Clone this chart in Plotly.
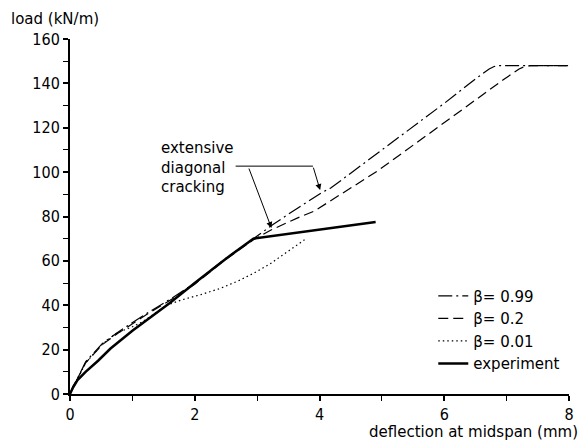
import plotly.graph_objects as go

# ---- data ----
exp_x = [0, 0.05, 0.12, 0.25, 0.45, 0.65, 1.0, 1.6, 2.0, 2.5, 2.94, 4.9]
exp_y = [0, 3, 6.3, 10, 15, 20.5, 28.5, 41, 50, 61, 70, 77.5]

b099_x = [0, 0.05, 0.12, 0.25, 0.52, 0.78, 1.21, 1.65, 2.0, 2.49, 2.94, 3.26, 3.66,
          4.05, 4.18, 4.93, 5.5, 6.0, 6.5, 6.72, 6.8, 6.88, 8.0]
b099_y = [0, 3.5, 7, 14.5, 22.8, 28.1, 36, 43.5, 50, 61, 70, 76.5, 84,
          91, 92.8, 108.5, 120.5, 131, 142, 146.5, 147.6, 148, 148]

b02_x = [0, 0.05, 0.12, 0.25, 0.52, 0.78, 1.21, 1.65, 2.0, 2.49, 2.94, 3.23, 3.66,
         3.92, 4.93, 5.5, 6.0, 6.5, 6.94, 7.2, 7.3, 7.4, 8.0]
b02_y = [0, 3.5, 7, 14, 22.3, 27.6, 35.5, 43, 49.5, 60.5, 69.5, 74, 79.5,
         82.5, 100.5, 112, 122, 132.5, 141.5, 146.5, 147.7, 148, 148]

b001_x = [0, 0.12, 0.25, 0.52, 0.75, 1.0, 1.16, 1.55, 1.8, 2.1, 2.4, 2.7, 2.95,
          3.2, 3.45, 3.76]
b001_y = [0, 6.5, 14, 22.5, 27.5, 30.3, 32.5, 40, 42.5, 44.8, 47.5, 51, 54.5,
          58.5, 63.5, 69.5]

x_ticks = [0, 2, 4, 6, 8]
y_ticks = [0, 20, 40, 60, 80, 100, 120, 140, 160]

labels = ["β= 0.99", "β= 0.2", "β= 0.01", "experiment"]

# annotation anchor points (data units)
crack1_tip = (4.01, 91.9)
crack2_tip = (3.23, 74.8)
crack1_tail = (3.895, 102.7)
crack2_tail = (2.86, 102.3)
leader_start_x = 2.655

FONT = "DejaVu Sans"
TICKFONT = "DejaVu Sans Condensed, DejaVu Sans"

fig = go.Figure()
fig.add_trace(go.Scatter(x=b099_x, y=b099_y, mode="lines", name=labels[0],
                         line=dict(color="black", width=1.2, dash="14px,4px,2px,4px")))
fig.add_trace(go.Scatter(x=b02_x, y=b02_y, mode="lines", name=labels[1],
                         line=dict(color="black", width=1.2, dash="10px,5px")))
fig.add_trace(go.Scatter(x=b001_x, y=b001_y, mode="lines", name=labels[2],
                         line=dict(color="black", width=1.2, dash="1.5px,3px")))
fig.add_trace(go.Scatter(x=exp_x, y=exp_y, mode="lines", name=labels[3],
                         line=dict(color="black", width=2.5)))

axis_common = dict(
    showgrid=False, zeroline=False, showline=True, linecolor="black", linewidth=2,
    ticks="outside", ticklen=5, tickwidth=1.5, tickcolor="black",
    tickfont=dict(family=TICKFONT, size=16, color="black"),
    minor=dict(ticks="outside", ticklen=5, tickwidth=1.2, tickcolor="black"),
)

fig.update_xaxes(range=[0, 8], tickvals=x_ticks, minor_dtick=1, **axis_common)
fig.update_yaxes(range=[0, 160], tickvals=y_ticks, minor_dtick=10, **axis_common)

annotations = [
    dict(text="extensive<br>diagonal<br>cracking", x=1.43, y=102.3, xref="x", yref="y",
         xanchor="left", yanchor="middle", align="left", showarrow=False,
         font=dict(family=FONT, size=15, color="black")),
    dict(x=crack1_tip[0], y=crack1_tip[1], ax=crack1_tail[0], ay=crack1_tail[1],
         xref="x", yref="y", axref="x", ayref="y", text="", showarrow=True,
         arrowhead=2, arrowsize=1.2, arrowwidth=1, arrowcolor="black"),
    dict(x=crack2_tip[0], y=crack2_tip[1], ax=crack2_tail[0], ay=crack2_tail[1],
         xref="x", yref="y", axref="x", ayref="y", text="", showarrow=True,
         arrowhead=2, arrowsize=1.2, arrowwidth=1, arrowcolor="black"),
    dict(text="load (kN/m)", x=-0.123, y=1.056, xref="paper", yref="paper",
         xanchor="left", yanchor="middle", showarrow=False,
         font=dict(family=FONT, size=15, color="black")),
    dict(text="deflection at midspan (mm)", x=1.022, y=-0.106, xref="paper", yref="paper",
         xanchor="right", yanchor="middle", showarrow=False,
         font=dict(family=FONT, size=15, color="black")),
]

shapes = [
    dict(type="line", xref="x", yref="y", x0=leader_start_x, x1=crack1_tail[0],
         y0=crack1_tail[1], y1=crack1_tail[1], line=dict(color="black", width=1)),
]

fig.update_layout(
    width=586, height=441,
    margin=dict(l=70, r=13, t=39, b=47),
    paper_bgcolor="white", plot_bgcolor="white",
    font=dict(family=FONT, color="black"),
    showlegend=True,
    legend=dict(x=0.728, y=0.322, xanchor="left", yanchor="top",
                bgcolor="rgba(0,0,0,0)", borderwidth=0,
                font=dict(family=FONT, size=15, color="black"),
                tracegroupgap=0),
    annotations=annotations,
    shapes=shapes,
)

fig.write_html("out.html")
